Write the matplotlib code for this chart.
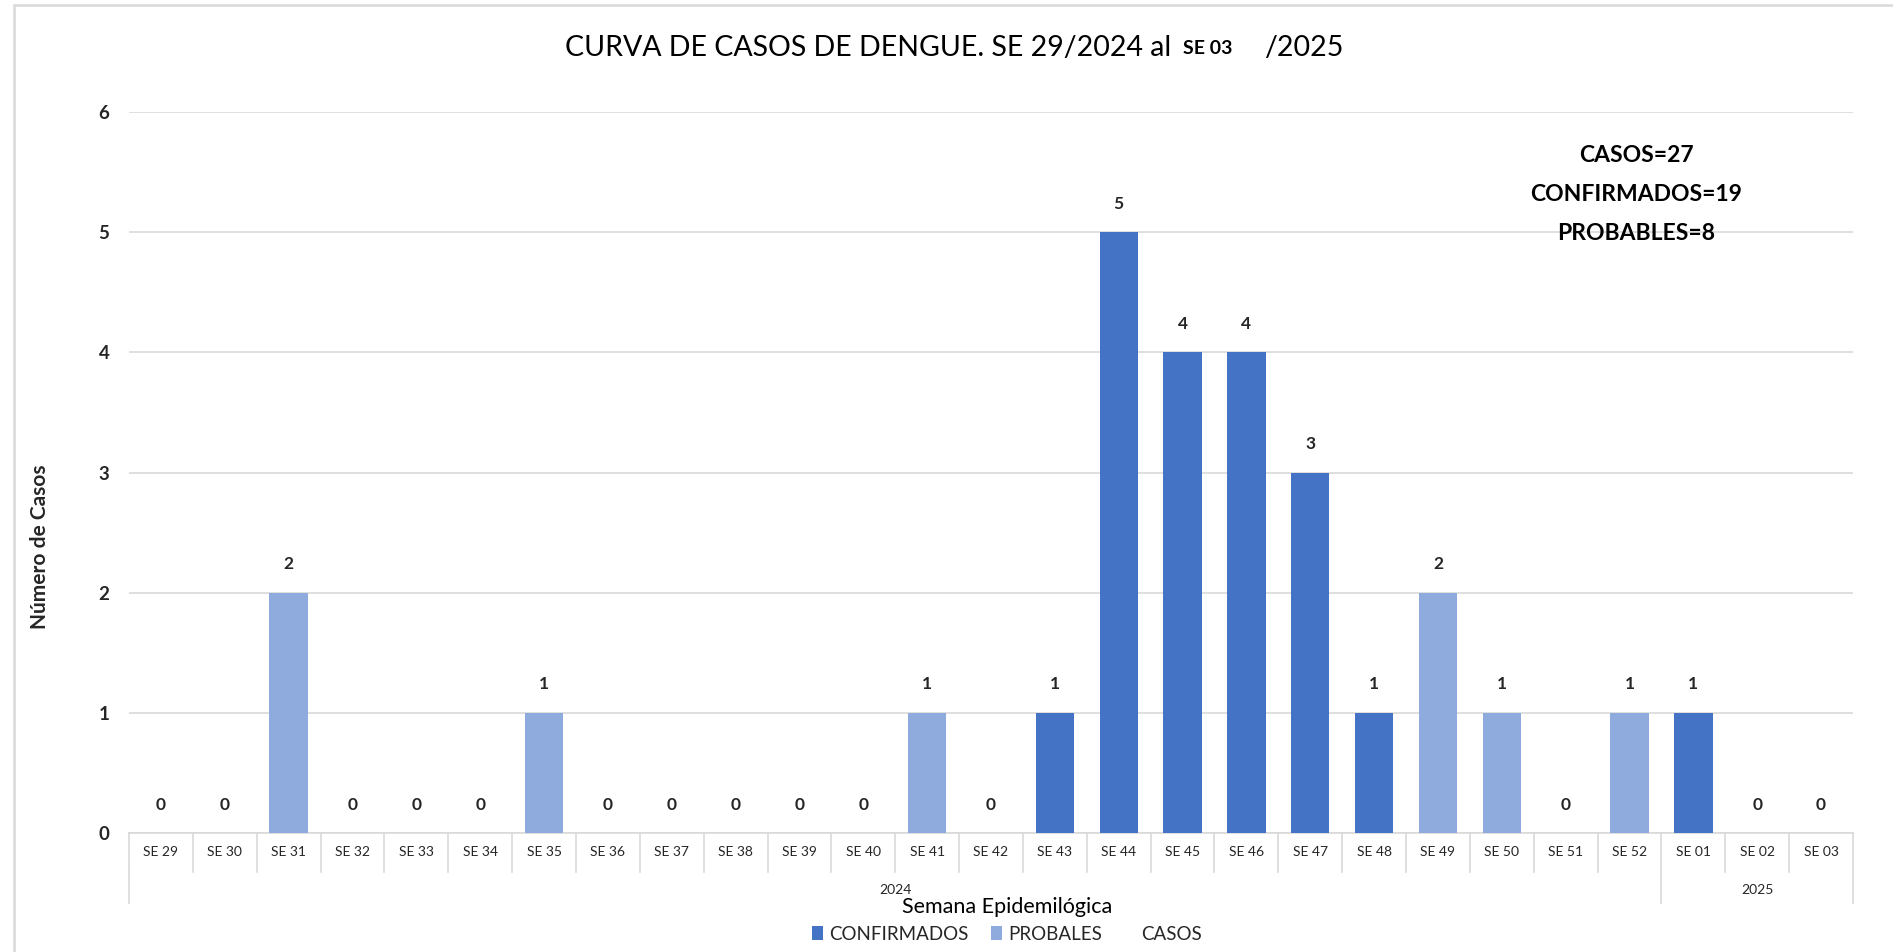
import matplotlib
matplotlib.use("Agg")
import matplotlib.pyplot as plt
import matplotlib.transforms as mtransforms
from matplotlib.patches import Patch, Rectangle
from matplotlib.lines import Line2D
import numpy as np

plt.rcParams['font.family'] = ['Lato', 'DejaVu Sans']

weeks = ["SE29", "SE30", "SE31", "SE32", "SE33", "SE34", "SE35", "SE36", "SE37",
         "SE38", "SE39", "SE40", "SE41", "SE42", "SE43", "SE44", "SE45", "SE46",
         "SE47", "SE48", "SE49", "SE50", "SE51", "SE52", "SE01", "SE02", "SE03"]
tick_labels = ["SE 29", "SE 30", "SE 31", "SE 32", "SE 33", "SE 34", "SE 35", "SE 36", "SE 37",
               "SE 38", "SE 39", "SE 40", "SE 41", "SE 42", "SE 43", "SE 44", "SE 45", "SE 46",
               "SE 47", "SE 48", "SE 49", "SE 50", "SE 51", "SE 52", "SE 01", "SE 02", "SE 03"]
confirmados = [0, 0, 0, 0, 0, 0, 0, 0, 0, 0, 0, 0, 0, 0, 1, 5, 4, 4, 3, 1, 0, 0, 0, 0, 1, 0, 0]
probables = [0, 0, 2, 0, 0, 0, 1, 0, 0, 0, 0, 0, 1, 0, 0, 0, 0, 0, 0, 0, 2, 1, 0, 1, 0, 0, 0]
years = ["2024", "2025"]
year_counts = [24, 3]
summary = ["CASOS=27", "CONFIRMADOS=19", "PROBABLES=8"]

c_conf = "#4472C4"
c_prob = "#8FAADC"
grid_c = "#D9D9D9"
txt_c = "#262626"

W, H = 1893, 952
fig = plt.figure(figsize=(W / 100, H / 100), dpi=100)
ax = fig.add_axes([129 / W, 1 - 833 / H, (1853 - 129) / W, (833 - 112) / H])

x = np.arange(len(weeks))
conf = np.array(confirmados)
prob = np.array(probables)
casos = conf + prob
ax.bar(x, conf, width=0.6, color=c_conf, zorder=3)
ax.bar(x, prob, width=0.6, bottom=conf, color=c_prob, zorder=3)

for xi, v in zip(x, casos):
    ax.text(xi, v + 0.17, str(v), ha="center", va="bottom", fontsize=12.5,
            color=txt_c, fontweight="bold")

ax.set_xlim(-0.5, len(weeks) - 0.5)
ax.set_ylim(0, 6)
ax.set_yticks(range(0, 7))
ax.yaxis.grid(True, color=grid_c, linewidth=1.2, zorder=0)
ax.tick_params(axis="y", length=0, pad=14, labelsize=13.5, labelcolor=txt_c)
for lab in ax.get_yticklabels():
    lab.set_fontweight("bold")
ax.set_xticks([])
for s in ["top", "right", "left"]:
    ax.spines[s].set_visible(False)
ax.spines["bottom"].set_color(grid_c)
ax.spines["bottom"].set_linewidth(1.2)

tr = mtransforms.blended_transform_factory(ax.transData, ax.transAxes)
row1 = -0.054
row2 = -0.097
for xi, lab in zip(x, tick_labels):
    ax.text(xi, -0.027, lab, transform=tr, ha="center", va="center",
            fontsize=10, color=txt_c, clip_on=False)
for b in np.arange(-0.5, len(weeks), 1.0):
    ax.add_line(Line2D([b, b], [0, row1], transform=tr, color=grid_c,
                       linewidth=1.2, clip_on=False))
start = -0.5
for yr, n in zip(years, year_counts):
    end = start + n
    ax.add_line(Line2D([start, start], [row1, row2], transform=tr, color=grid_c,
                       linewidth=1.2, clip_on=False))
    ax.text((start + end) / 2, -0.079, yr, transform=tr, ha="center", va="center",
            fontsize=10, color=txt_c, clip_on=False)
    start = end
ax.add_line(Line2D([start, start], [row1, row2], transform=tr, color=grid_c,
                   linewidth=1.2, clip_on=False))

fig.text(40 / W, 1 - 547 / H, "Número de Casos", rotation=90, ha="center", va="center",
         fontsize=15, color=txt_c, fontweight="bold")

fig.text(1007 / W, 1 - 907 / H, "Semana Epidemilógica", ha="center", va="center",
         fontsize=15.5, color="black")

# title pieces
fig.text(1171 / W, 1 - 48 / H, "CURVA DE CASOS DE DENGUE. SE 29/2024 al", ha="right",
         va="center", fontsize=20.5, color="black")
fig.text(1183 / W, 1 - 48 / H, "SE 03", ha="left", va="center", fontsize=14,
         color="black", fontweight="bold")
fig.text(1264 / W, 1 - 48 / H, "/2025", ha="left", va="center", fontsize=20.5,
         color="black")

for i, s in enumerate(summary):
    fig.text(1636 / W, 1 - (155 + 39.5 * i) / H, s, ha="center", va="center",
             fontsize=16.5, fontweight="bold", color="black")

handles = [Patch(facecolor=c_conf), Patch(facecolor=c_prob),
           Line2D([], [], color="none")]
fig.legend(handles, ["CONFIRMADOS", "PROBALES", "CASOS"], loc="center",
           bbox_to_anchor=(1007 / W, 1 - 934 / H), ncol=3, frameon=False,
           fontsize=13.5, handlelength=0.6, handleheight=0.7, handletextpad=0.3,
           columnspacing=1.2, labelcolor=txt_c)

# outer chart frame (left and top edges visible)
fig.add_artist(Rectangle((14 / W, -0.05), (W - 14) / W + 0.05, 1.05 - 5 / H,
                         transform=fig.transFigure, fill=False, edgecolor=grid_c,
                         linewidth=1.8))

fig.savefig("out.png", dpi=100, facecolor="white")
